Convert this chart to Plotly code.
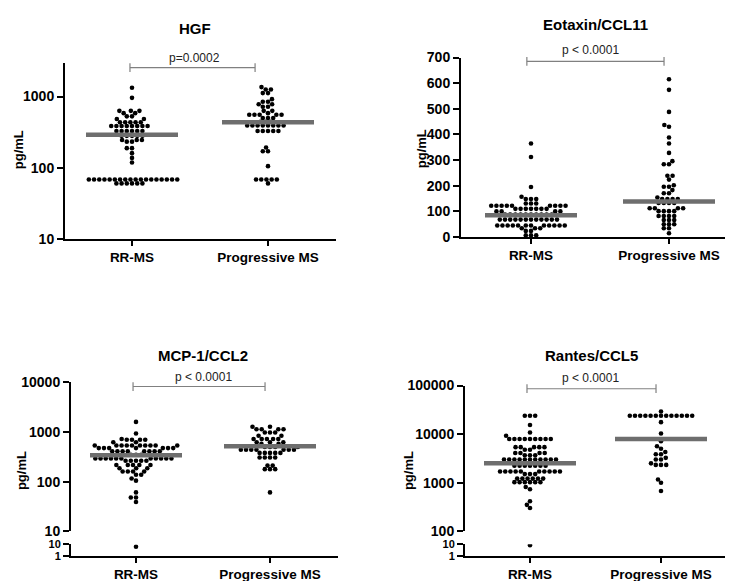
import numpy as np
import plotly.graph_objects as go

W, H = 733, 581
FONT = "Arial, 'Liberation Sans', Helvetica, sans-serif"

# ---------------- data ----------------
categories = ["RR-MS", "Progressive MS"]
titles = ["HGF", "Eotaxin/CCL11", "MCP-1/CCL2", "Rantes/CCL5"]
p_labels = ["p=0.0002", "p < 0.0001", "p < 0.0001", "p < 0.0001"]
y_label = "pg/mL"

hgf_rr = [1330, 960, 630, 630, 630, 585, 585, 527, 527, 484, 484,
          436, 436, 436, 436, 436, 385, 385, 385, 385, 385, 385, 385, 385,
          328, 328, 328, 328, 328, 328, 280, 280, 280, 280, 280,
          245, 245, 245, 232, 232, 188, 188, 160, 137, 118,
          68, 68, 68, 68, 68, 68, 68, 68, 68, 68, 68, 68, 68, 68, 68, 68, 68, 68,
          60, 60, 60, 60, 60, 60]
hgf_pm = [1360, 1260, 1260, 1120, 1120, 920, 845, 845, 780, 780, 720, 720,
          630, 630, 585, 555, 555, 555, 555, 555, 500, 500, 500, 440, 440, 440,
          392, 392, 392, 392, 392, 392, 392, 392, 328, 328, 328, 328, 328,
          192, 170, 170, 105, 68, 68, 68, 68, 68, 60]

eot_rr = [365, 312, 195, 157, 148, 148, 148, 131, 131, 131,
          122, 122, 122, 122, 122, 122, 122, 122, 122,
          110, 110, 110, 110, 110, 110, 110, 100, 100, 100, 100,
          88, 88, 88, 88, 88, 88, 88, 88, 88, 88,
          68, 68, 68, 68, 68, 68, 68, 68, 68, 68, 68, 68,
          45, 45, 45, 45, 45, 45, 45, 45, 45, 45, 45, 45,
          34, 34, 34, 24, 24, 7, 7, 7]
eot_pm = [615, 574, 488, 437, 430, 388, 365, 328, 296, 284, 284, 239, 239, 224,
          202, 196, 196, 183, 171, 171, 154, 148, 148, 148, 148,
          133, 133, 133, 133, 112, 112, 112, 112, 101, 101, 101, 101,
          82, 82, 82, 82, 66, 66, 66, 50, 50, 50, 34, 34, 15]

mcp_rr = [1600, 935, 723, 700, 700, 700, 700, 622, 622,
          535, 535, 535, 535, 535, 535, 535, 535, 535, 535,
          475, 475, 475, 475, 475, 475, 475, 408, 408, 408, 408, 408, 408, 408, 408,
          350, 350, 350, 294, 294, 294, 294, 294, 294, 294, 294, 294, 294, 294,
          264, 264, 264, 264, 264, 217, 217, 217, 217, 217, 187, 187, 187,
          161, 161, 161, 161, 138, 138, 116, 105, 61, 48, 48, 39, 6.2]
mcp_pm = [1280, 1280, 1135, 1135, 1135, 1135, 977, 977, 977, 840, 840,
          723, 723, 723, 723, 723, 622, 622, 622, 577, 577, 500, 500, 500, 500,
          441, 441, 441, 441, 441, 441, 441, 380, 380, 380, 380, 380,
          307, 307, 307, 307, 211, 211, 179, 179, 179, 61]

ran_rr = [24000, 24000, 24000, 15400, 10800, 9260,
          7940, 7940, 7940, 7940, 7940, 7940, 7940, 7940, 7940,
          5400, 5400, 5400, 5400, 5400, 4790, 4790, 4100, 4100, 4100, 4100,
          3690, 3690, 3690, 3020, 3020, 3020, 3020, 3020, 3020, 3020, 3020, 3020, 3020, 3020,
          2250, 2250, 2250, 2250, 2250, 2250, 2250,
          1710, 1710, 1710, 1710, 1710, 1710, 1710, 1710, 1710, 1710, 1510, 1510, 1510,
          1220, 1220, 1220, 1220, 1220, 1220, 1030, 1030, 1030, 1030, 1030, 1030,
          820, 735, 417, 352, 302, 8.2]
ran_pm = [29300, 24000, 24000, 24000, 24000, 24000, 24000, 24000, 24000, 24000,
          24000, 24000, 24000, 24000, 17650, 10300, 7130, 5660, 5010, 4300,
          3860, 3860, 3260, 3020, 3020, 2510, 2330, 2330, 2330, 1170, 1000, 680]

hgf_medians = [290, 436]
eot_medians = [85, 139]
mcp_medians = [341, 520]
ran_medians = [2510, 7940]

hgf_ticks = [10, 100, 1000]
eot_ticks = [0, 100, 200, 300, 400, 500, 600, 700]
mcp_ticks = [10, 100, 1000, 10000]
ran_ticks = [100, 1000, 10000, 100000]
low_ticks = [1, 10]

# ---------------- layout geometry (pixels) ----------------
panels = [
    dict(groups=(hgf_rr, hgf_pm), med=hgf_medians, ticks=hgf_ticks, kind="log",
         xl=57, xr=328, c0=124, c1=260, main=(229, 10, 48, 3000), low=None,
         title=(187, 13), ylab=(10, 138), ptxt=(186, 43), br=(53, -0.015, 0.905)),
    dict(groups=(eot_rr, eot_pm), med=eot_medians, ticks=eot_ticks, kind="linear",
         xl=453, xr=730, c0=523, c1=661, main=(227.3, 0, 42.7, 700), low=None,
         title=(587, 9), ylab=(413, 137), ptxt=(582, 35), br=(46.7, -0.03, 0.964)),
    dict(groups=(mcp_rr, mcp_pm), med=mcp_medians, ticks=mcp_ticks, kind="log",
         xl=63, xr=330, c0=128, c1=262, main=(530, 10, 376.7, 10000),
         low=(555, 1, 543.3, 10),
         title=(195, 349), ylab=(13, 468), ptxt=(195, 371), br=(381, -0.022, 0.963)),
    dict(groups=(ran_rr, ran_pm), med=ran_medians, ticks=ran_ticks, kind="log",
         xl=457, xr=718, c0=522, c1=653, main=(530, 100, 380, 100000),
         low=(555, 1, 543.3, 10),
         title=(583, 349), ylab=(400, 468), ptxt=(582, 372.7), br=(383.3, -0.023, 0.962)),
]

DOT_D = 5.2      # horizontal spacing of dots within a row (px)
Y_STRETCH = 1.25 # vertical weight in the collision metric
MED_HALF = 46    # px half-width of median bar


def fy(py):
    return 1 - py / H


def fx(px):
    return px / W


def v2px(v, spec, kind):
    yb, vb, yt, vt = spec
    if kind == "log":
        return yb - (np.log10(v) - np.log10(vb)) / (np.log10(vt) - np.log10(vb)) * (yb - yt)
    return yb - (v - vb) / (vt - vb) * (yb - yt)


def swarm(ypx, d):
    ys = np.asarray(ypx) * Y_STRETCH
    xs = np.zeros(len(ys))
    placed = []
    for i in np.argsort(-ys, kind="stable"):
        y = ys[i]
        nb = [(px, py) for px, py in placed if abs(py - y) < d]
        cands = [0.0]
        for px, py in nb:
            dx = np.sqrt(max(d * d - (py - y) ** 2, 0))
            cands += [px + dx, px - dx]
        cands = sorted(cands, key=lambda c: (round(abs(c), 6), c))
        for c in cands:
            if all((c - px) ** 2 + (y - py) ** 2 >= d * d - 1e-6 for px, py in nb):
                xs[i] = c
                break
        placed.append((xs[i], y))
    return xs


fig = go.Figure()
layout = dict(width=W, height=H, autosize=False, margin=dict(l=0, r=0, t=0, b=0),
              plot_bgcolor="white", paper_bgcolor="white", showlegend=False,
              font=dict(family=FONT, color="black"))
shapes, annotations = [], []

axis_common = dict(showline=True, linecolor="black", linewidth=2, ticks="outside",
                   tickcolor="black", tickwidth=2, showgrid=False, zeroline=False,
                   tickfont=dict(family=FONT, size=14, color="black", weight="bold"))

low_axis_idx = 5
for k, p in enumerate(panels):
    n = k + 1
    xa = "x" if n == 1 else f"x{n}"
    ya = "y" if n == 1 else f"y{n}"
    scale = p["c1"] - p["c0"]
    xmin = (p["xl"] - p["c0"]) / scale
    xmax = (p["xr"] - p["c0"]) / scale

    yb, vb, yt, vt = p["main"]
    if p["kind"] == "log":
        yrange = [np.log10(vb), np.log10(vt)]
    else:
        yrange = [vb, vt]

    low_name = None
    if p["low"] is not None:
        low_name = f"y{low_axis_idx}"
        low_axis_idx += 1

    xanchor = low_name if low_name else ya
    layout["xaxis" if n == 1 else f"xaxis{n}"] = dict(
        axis_common, domain=[fx(p["xl"]), fx(p["xr"])], range=[xmin, xmax],
        anchor=xanchor, tickvals=[0, 1], ticktext=categories, ticklen=5,
        tickfont=dict(family=FONT, size=13.5, color="black", weight="bold"))
    layout["yaxis" if n == 1 else f"yaxis{n}"] = dict(
        axis_common, domain=[fy(yb), fy(yt)], type=p["kind"], range=yrange,
        anchor=xa, tickvals=p["ticks"], ticktext=[str(t) for t in p["ticks"]], ticklen=6)
    if low_name:
        lb, lvb, lt, lvt = p["low"]
        layout["yaxis" + low_name[1:]] = dict(
            axis_common, domain=[fy(lb), fy(lt)], type="log",
            range=[np.log10(lvb), np.log10(lvt)], anchor=xa,
            tickvals=low_ticks, ticktext=[str(t) for t in low_ticks], ticklen=6,
            tickfont=dict(family=FONT, size=11, color="black", weight="bold"))

    # dots
    for gi, vals in enumerate(p["groups"]):
        vals = np.asarray(vals, dtype=float)
        is_low = np.zeros(len(vals), bool)
        if low_name:
            is_low = vals < p["low"][3]
        ypx = np.array([v2px(v, p["low"], "log") if lo else v2px(v, p["main"], p["kind"])
                        for v, lo in zip(vals, is_low)])
        offs = swarm(ypx, DOT_D)
        xs = gi + offs / scale
        fig.add_trace(go.Scatter(x=xs[~is_low], y=vals[~is_low], xaxis=xa, yaxis=ya,
                                 mode="markers", marker=dict(size=4.6, color="black"),
                                 hoverinfo="skip"))
        if is_low.any():
            fig.add_trace(go.Scatter(x=xs[is_low], y=vals[is_low], xaxis=xa, yaxis=low_name,
                                     mode="markers", marker=dict(size=4.6, color="black"),
                                     hoverinfo="skip"))
    # median bars
    for gi, m in enumerate(p["med"]):
        hw = MED_HALF / scale
        fig.add_trace(go.Scatter(x=[gi - hw, gi + hw], y=[m, m], xaxis=xa, yaxis=ya,
                                 mode="lines", line=dict(color="#6e6e6e", width=4.5),
                                 hoverinfo="skip"))

    # bracket
    by, bx0, bx1 = p["br"]
    shapes.append(dict(type="line", xref=xa, yref="paper", x0=bx0, x1=bx1,
                       y0=fy(by), y1=fy(by), line=dict(color="#808080", width=1.2)))
    for bx in (bx0, bx1):
        shapes.append(dict(type="line", xref=xa, yref="paper", x0=bx, x1=bx,
                           y0=fy(by - 4.5), y1=fy(by + 4.5),
                           line=dict(color="#808080", width=1.2)))
    annotations.append(dict(text=p_labels[k], xref="paper", yref="paper",
                            x=fx(p["ptxt"][0]), y=fy(p["ptxt"][1]), showarrow=False,
                            xanchor="center", yanchor="middle",
                            font=dict(family=FONT, size=12, color="#222")))
    annotations.append(dict(text=titles[k], xref="paper", yref="paper",
                            x=fx(p["title"][0]), y=fy(p["title"][1]), showarrow=False,
                            xanchor="center", yanchor="middle",
                            font=dict(family=FONT, size=15, color="black", weight="bold")))
    annotations.append(dict(text=y_label, xref="paper", yref="paper",
                            x=fx(p["ylab"][0]), y=fy(p["ylab"][1]), showarrow=False,
                            xanchor="center", yanchor="middle", textangle=-90,
                            font=dict(family=FONT, size=13, color="black", weight="bold")))

layout["shapes"] = shapes
layout["annotations"] = annotations
fig.update_layout(**layout)
fig.write_html("out.html")
